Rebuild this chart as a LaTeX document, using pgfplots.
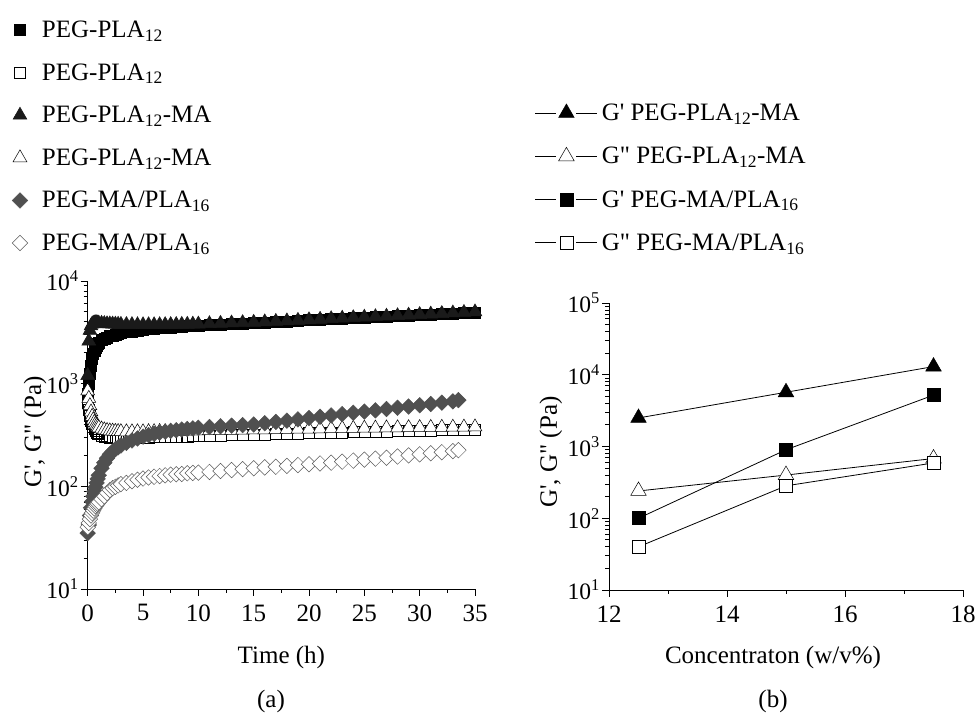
\documentclass[border=0pt]{standalone}
\usepackage{fontspec}
\setmainfont{Liberation Serif}[Ligatures=TeXOff]
\usepackage{pgfplots}
\usepackage{pgfplotstable}
\pgfplotsset{compat=1.18}
\definecolor{darkfill}{HTML}{1A1A1A}
\definecolor{diafill}{HTML}{505050}
\definecolor{diaopen}{HTML}{5A5A5A}

\pgfplotstableread{
t sqF triF sqO triO diaF diaO
0 800 1200 650 850 35 40
0.1 1000 2600 560 720 42 44
0.2 1250 3300 490 610 52 48
0.3 1500 3650 440 530 62 52
0.4 1750 3800 405 480 71 55
0.5 1950 3870 380 445 80 58
0.6 2100 3900 360 420 89 61
0.7 2250 3910 345 402 98 64
0.8 2350 3910 335 390 108 66
0.9 2450 3900 328 380 118 68
1 2520 3890 322 372 128 70
1.25 2650 3870 313 362 150 75
1.5 2750 3850 307 355 170 80
1.75 2830 3830 303 350 188 86
2 2900 3820 300 347 205 92
2.25 2950 3810 298 345 218 96
2.5 3000 3800 297 343 230 99
2.75 3050 3790 296 342 240 102
3 3100 3780 296 341 250 105
3.5 3170 3770 296 340 265 108
4 3240 3760 297 340 280 112
4.5 3300 3750 298 340 293 116
5 3350 3750 299 340 305 119
5.5 3390 3750 300 341 315 122
6 3430 3750 301 341 325 124
6.5 3470 3755 302 342 333 126
7 3500 3760 303 342 340 128
7.5 3540 3765 304 343 347 130
8 3570 3770 305 344 352 131
8.5 3600 3780 306 344 357 132
9 3630 3790 307 345 362 134
9.5 3650 3800 308 346 367 135
10 3680 3810 309 346 372 136
11 3730 3840 311 348 378 138
12 3780 3870 313 349 384 141
13 3830 3900 315 351 390 144
14 3870 3930 317 352 395 147
15 3910 3960 319 354 400 150
16 3960 4000 321 355 412 153
17 4000 4040 323 357 424 155
18 4050 4090 325 358 436 158
19 4100 4140 327 360 449 161
20 4150 4190 329 361 462 164
21 4200 4240 331 363 476 167
22 4250 4290 333 364 490 170
23 4300 4340 335 366 505 174
24 4350 4390 337 367 520 178
25 4400 4440 339 369 535 182
26 4450 4490 341 370 550 186
27 4500 4540 343 371 566 190
28 4560 4590 345 372 582 195
29 4610 4650 347 373 599 200
30 4660 4710 349 374 616 205
31 4710 4760 351 375 634 210
32 4760 4820 352 376 653 215
33 4810 4880 353 377 672 220
33.5 nan nan nan nan 692 225
34 4860 4940 354 378 nan nan
35 4910 5000 355 379 nan nan
}\timedata

\pgfplotstableread{
c triF triO sqF sqO
12.5 2500 240 100 40
15 5700 400 900 283
17.5 13000 680 5200 590
}\concdata

\begin{document}
\fontsize{25bp}{29bp}\selectfont
\begin{tikzpicture}
\useasboundingbox (0,0) rectangle (979bp,716bp);
% ---------- (a) ----------
\begin{axis}[
  ymode=log,
  scale only axis,
  axis x line*=bottom,
  axis y line*=left,
  tick align=outside,
  axis line style={line width=0.9bp},
  every tick/.style={line width=0.9bp, black},
  major tick length=7bp,
  minor tick length=4bp,
  /pgf/number format/assume math mode=true,
  yticklabel style={font=\fontsize{23.5bp}{27bp}\selectfont, inner xsep=2bp},
  legend cell align=left,
  at={(87.7bp,127bp)}, anchor=south west,
  width=387.3bp, height=308bp,
  xmin=0, xmax=35, ymin=10, ymax=10000,
  xtick={0,5,...,35}, minor x tick num=1,
  ytick={10,100,1000,10000},
  yticklabels={10\textsuperscript{1},10\textsuperscript{2},10\textsuperscript{3},10\textsuperscript{4}},
  minor ytick={20,30,40,50,60,70,80,90,200,300,400,500,600,700,800,900,2000,3000,4000,5000,6000,7000,8000,9000},
  xlabel={Time (h)},
  xlabel style={at={(axis description cs:0.5,-0.2435)}, anchor=base},
  ylabel={G', G" (Pa)},
  ylabel style={at={(axis description cs:-0.1360,0.5097)}, anchor=center},
  legend style={draw=none, fill=none, inner sep=0pt, outer sep=0pt,
    at={(axis description cs:-0.1949,1.8555)}, anchor=north west,
    row sep=17.6bp, column sep=14.2bp,
    nodes={inner sep=0pt, text height=20bp, text depth=5bp}},
  legend image code/.code={\draw[#1] plot coordinates {(0bp,0bp)};},
]
\addplot[only marks, mark=square*, mark size=5.5bp, draw=black, fill=black, line width=0.5bp]
  table[x=t, y=sqF] {\timedata};
\addlegendentry{PEG-PLA\textsubscript{12}}
\addplot[only marks, mark=square, mark size=5.5bp, draw=black, mark options={fill=white}, line width=0.5bp]
  table[x=t, y=sqO] {\timedata};
\addlegendentry{PEG-PLA\textsubscript{12}}
\addplot[only marks, mark=triangle*, mark size=8bp, draw=darkfill, fill=darkfill, line width=0.5bp]
  table[x=t, y=triF] {\timedata};
\addlegendentry{PEG-PLA\textsubscript{12}-MA}
\addplot[only marks, mark=triangle*, mark size=8bp, draw=black, mark options={fill=white}, line width=0.5bp]
  table[x=t, y=triO] {\timedata};
\addlegendentry{PEG-PLA\textsubscript{12}-MA}
\addplot[only marks, mark=square*, mark size=5.5bp, draw=diafill, fill=diafill, mark options={rotate=45}, line width=0.5bp]
  table[x=t, y=diaF] {\timedata};
\addlegendentry{PEG-MA/PLA\textsubscript{16}}
\addplot[only marks, mark=square*, mark size=5.5bp, draw=diaopen, mark options={rotate=45, fill=white}, line width=0.5bp]
  table[x=t, y=diaO] {\timedata};
\addlegendentry{PEG-MA/PLA\textsubscript{16}}
\end{axis}
% ---------- (b) ----------
\begin{axis}[
  ymode=log,
  scale only axis,
  axis x line*=bottom,
  axis y line*=left,
  tick align=outside,
  axis line style={line width=0.9bp},
  every tick/.style={line width=0.9bp, black},
  major tick length=7bp,
  minor tick length=4bp,
  /pgf/number format/assume math mode=true,
  yticklabel style={font=\fontsize{23.5bp}{27bp}\selectfont, inner xsep=2bp},
  legend cell align=left,
  at={(609bp,126bp)}, anchor=south west,
  width=354bp, height=287bp,
  xmin=12, xmax=18, ymin=10, ymax=100000,
  xtick={12,14,16,18}, minor x tick num=1,
  ytick={10,100,1000,10000,100000},
  yticklabels={10\textsuperscript{1},10\textsuperscript{2},10\textsuperscript{3},10\textsuperscript{4},10\textsuperscript{5}},
  minor ytick={20,30,40,50,60,70,80,90,200,300,400,500,600,700,800,900,2000,3000,4000,5000,6000,7000,8000,9000,20000,30000,40000,50000,60000,70000,80000,90000},
  xlabel={Concentraton (w/v\%)},
  xlabel style={at={(axis description cs:0.4633,-0.2578)}, anchor=base},
  ylabel={G', G" (Pa)},
  ylabel style={at={(axis description cs:-0.1640,0.481)}, anchor=center},
  legend style={draw=none, fill=none, inner sep=0pt, outer sep=0pt,
    at={(axis description cs:-0.2090,1.7056)}, anchor=north west,
    row sep=18.3bp, column sep=4bp,
    nodes={inner sep=0pt, text height=20bp, text depth=5bp}},
  legend image code/.code={\draw[#1] (0bp,0bp) -- (21bp,0bp); \draw[#1] (41bp,0bp) -- (62bp,0bp); \draw[#1, only marks] plot coordinates {(31bp,0bp)};},
]
\addplot[black, line width=0.8bp, mark=triangle*, mark size=9bp, mark options={fill=black, line width=0.5bp}]
  table[x=c, y=triF] {\concdata};
\addlegendentry{G' PEG-PLA\textsubscript{12}-MA}
\addplot[black, line width=0.8bp, mark=triangle*, mark size=9bp, mark options={fill=white, line width=0.5bp}]
  table[x=c, y=triO] {\concdata};
\addlegendentry{G" PEG-PLA\textsubscript{12}-MA}
\addplot[black, line width=0.8bp, mark=square*, mark size=6.5bp, mark options={fill=black, line width=0.5bp}]
  table[x=c, y=sqF] {\concdata};
\addlegendentry{G' PEG-MA/PLA\textsubscript{16}}
\addplot[black, line width=0.8bp, mark=square*, mark size=6.5bp, mark options={fill=white, line width=0.5bp}]
  table[x=c, y=sqO] {\concdata};
\addlegendentry{G" PEG-MA/PLA\textsubscript{16}}
\end{axis}
\node[anchor=base] at (271bp,9bp) {(a)};
\node[anchor=base] at (773bp,9bp) {(b)};
\end{tikzpicture}
\end{document}
